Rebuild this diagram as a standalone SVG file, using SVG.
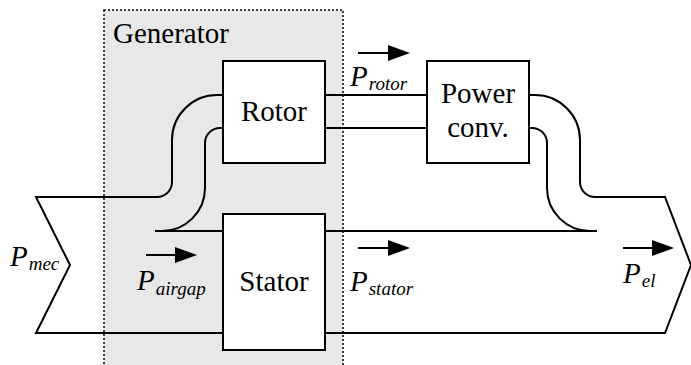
<svg xmlns="http://www.w3.org/2000/svg" width="691" height="365" viewBox="0 0 691 365">
<style>
.ln{fill:none;stroke:#000;stroke-width:2}
.box{fill:#fff;stroke:#000;stroke-width:2}
.hd{fill:#000;stroke:none}
.t{font-family:'Liberation Serif',serif;font-size:29px}
.v{font-family:'Liberation Serif',serif;font-style:italic;font-size:29px}
.sub{font-size:19px}
</style>
<rect width="691" height="365" fill="#fff"/>
<g id="generator">
<rect x="104" y="10" width="239" height="370" fill="#e8e8e8" stroke="#000" stroke-width="1.5" stroke-dasharray="2,2"/>
<text class="t" x="113" y="43">Generator</text>
</g>
<g id="connectors">
<path class="ln" d="M223,95 L217,95 A45,45 0 0 0 172,140 L172,182 A15,15 0 0 1 157,197 L36,197 L70,265 L36,333 L223,333"/>
<path class="ln" d="M223,128 L220,128 A15,15 0 0 0 205,143 L205,188 A43,43 0 0 1 162,231"/>
<path class="ln" d="M155,231 L223,231"/>
<path class="ln" d="M325,95 L427,95 M325,128 L427,128"/>
<path class="ln" d="M529,95 L535,95 A45,45 0 0 1 580,140 L580,182 A15,15 0 0 0 595,197 L665,197 L691,265 L665,333 L325,333"/>
<path class="ln" d="M529,128 L532,128 A15,15 0 0 1 547,143 L547,188 A43,43 0 0 0 590,231"/>
<path class="ln" d="M325,231 L597,231"/>
<path class="ln" d="M358,53 H390 M146,255 H177 M358,248 H390 M623,248 H654"/>
<path class="hd" d="M388,45 L410,53 L388,61 Z M175,247 L197,255 L175,263 Z M388,240 L410,248 L388,256 Z M652,240 L674,248 L652,256 Z"/>
</g>
<g id="rotor">
<rect class="box" x="223" y="61" width="102" height="102"/>
<text class="t" x="274" y="121" text-anchor="middle">Rotor</text>
</g>
<g id="stator">
<rect class="box" x="223" y="214" width="102" height="136"/>
<text class="t" x="274" y="291" text-anchor="middle">Stator</text>
</g>
<g id="power-conv">
<rect class="box" x="427" y="61" width="102" height="102"/>
<text class="t" x="478" y="103" text-anchor="middle">Power</text>
<text class="t" x="478" y="137" text-anchor="middle">conv.</text>
</g>
<g id="labels">
<text class="v" x="10" y="266">P<tspan class="sub" dy="4" dx="1">mec</tspan></text>
<text class="v" x="137" y="290">P<tspan class="sub" dy="5" dx="1">airgap</tspan></text>
<text class="v" x="350" y="86">P<tspan class="sub" dy="4" dx="1">rotor</tspan></text>
<text class="v" x="350" y="291">P<tspan class="sub" dy="4" dx="1">stator</tspan></text>
<text class="v" x="623" y="283">P<tspan class="sub" dy="4" dx="1">el</tspan></text>
</g>
</svg>
